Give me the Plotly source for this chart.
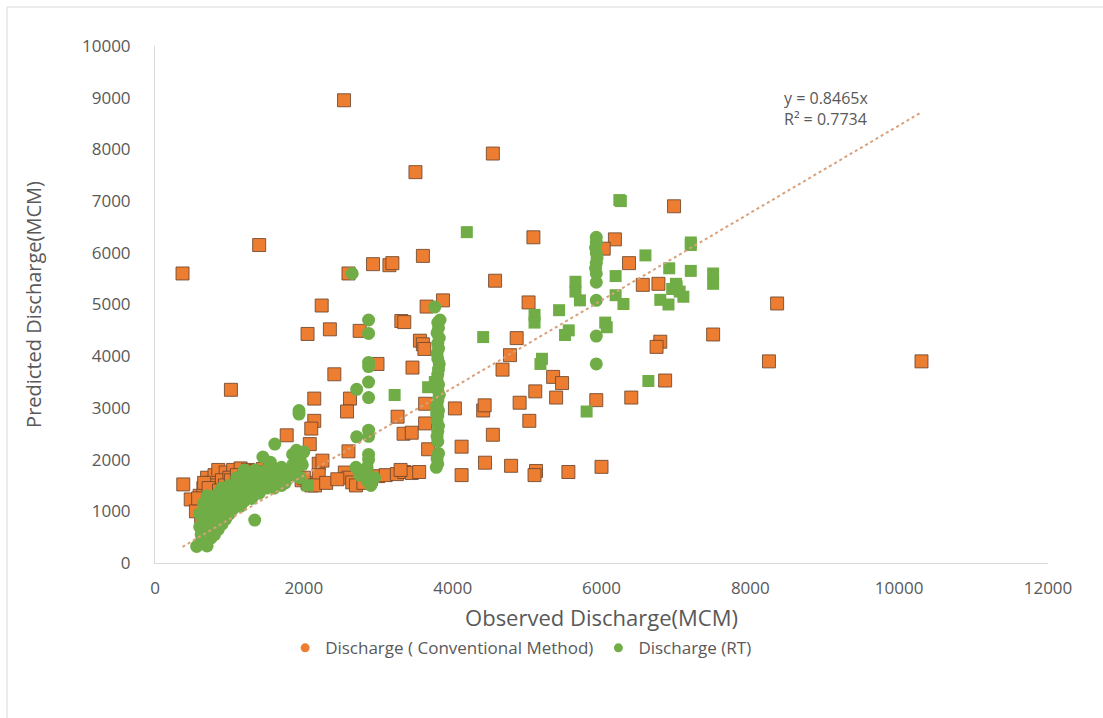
import plotly.graph_objects as go

# Conventional-method discharge: observed vs predicted (MCM)
conv_obs = [
    370, 1400, 2540, 3500, 4540, 6975, 5085, 6180, 6030, 6370, 6555, 6765,
    5020, 4570, 8360, 7500, 6790, 6740, 6855, 8250, 10300, 4860, 4770, 4670,
    5350, 5470, 5110, 4900, 5390, 5930, 6400, 4410, 4430, 5030, 4540, 4435,
    4785, 5120, 5100, 5555, 6000, 4120, 4120, 4030, 3870, 3650, 3600, 2930,
    3150, 3190, 2600, 2240, 2050, 2350, 2750, 3310, 3350, 3560, 3600, 3620,
    2410, 2990, 3460, 2140, 2620, 3630, 1020, 2580, 2140, 2100, 2080, 3260,
    3340, 3450, 1770, 2600, 3670, 3630, 2200, 2250,
    1970, 2050, 2100, 2200, 2550, 2600, 2650, 2700, 2800, 2900, 3000, 3100,
    3250, 3350, 3450, 3550, 3300, 380, 480,
    600, 650, 700, 750, 800, 850, 950, 1050, 1150, 1250, 1350, 1450, 1550,
    1650, 1750, 1850, 650, 700, 750, 800, 900, 1000, 600, 550, 620, 680, 700,
    580, 660, 720, 780, 860, 940, 1020, 1100, 1200, 1300, 1400, 1500, 1600,
    2000, 2150, 2300, 2450,
]
conv_pred = [
    5600, 6150, 8950, 7560, 7920, 6900, 6300, 6260, 6080, 5800, 5380, 5400,
    5040, 5460, 5020, 4420, 4280, 4180, 3530, 3900, 3900, 4350, 4020, 3740,
    3600, 3480, 3320, 3100, 3200, 3150, 3200, 2950, 3050, 2750, 2480, 1940,
    1880, 1780, 1700, 1760, 1860, 2250, 1700, 2990, 5080, 4960, 5940, 5780,
    5760, 5800, 5600, 4980, 4430, 4520, 4490, 4680, 4660, 4300, 4230, 4140,
    3650, 3850, 3780, 3180, 3180, 3080, 3350, 2930, 2750, 2600, 2300, 2830,
    2500, 2520, 2470, 2160, 2200, 2700, 1920, 1980,
    1600, 1550, 1500, 1700, 1750, 1650, 1560, 1500, 1550, 1620, 1680, 1700,
    1720, 1760, 1740, 1760, 1800, 1520, 1230,
    1300, 1450, 1650, 1550, 1700, 1800, 1750, 1800, 1830, 1800, 1780, 1820,
    1800, 1790, 1760, 1720, 1200, 1100, 1350, 1500, 1600, 1650, 1050, 1000,
    900, 800, 950, 1250, 1550, 1450, 1250, 1400, 1500, 1600, 1700, 1650,
    1700, 1750, 1720, 1680, 1650, 1500, 1550, 1620, 1580,
]

# RT discharge, points drawn as circles
rt_circle_obs = [
    2650, 2870, 2870, 3830, 3760, 2870, 2870, 2870, 2870, 2870, 2870, 2870,
    2870, 2850, 2710, 2710, 1935, 1935, 1610, 1900, 1340,
    3800, 3810, 3790, 3820, 3800, 3810, 3790, 3800, 3820, 3810, 3800, 3790,
    3810, 3800, 3820, 3800, 3790, 3810, 3800, 3790, 3810, 3800,
    3790, 3800, 3810, 3790, 3800, 3780,
    5930, 5930, 5920, 5930, 5940, 5930, 5920, 5930, 5930, 5930, 5930, 5930,
    2700, 2750, 2850, 2900, 2800, 2950,
    560, 600, 650, 700, 620, 680, 750, 800, 600, 700, 780, 850, 900, 650,
    750, 850, 950, 1000, 600, 700, 800, 900, 1050, 1150, 650, 750, 850, 950,
    1050, 1200, 1300, 700, 850, 950, 1100, 1250, 1400, 1500, 1600, 900, 1000,
    1150, 1300, 1450, 1600, 1700, 1100, 1250, 1400, 1550, 1700, 1200, 1350,
    1500, 1650, 1800, 1850, 1850, 1950, 1950, 1700, 1550, 1450, 1600, 1750,
    1880, 1980, 1900, 2000,
]
rt_circle_pred = [
    5600, 4700, 4440, 4700, 4950, 3880, 3800, 3500, 3200, 2570, 2450, 2100,
    2000, 1850, 3360, 2440, 2950, 2880, 2300, 2180, 830,
    4650, 4550, 4450, 4350, 4250, 4150, 4050, 3950, 3850, 3750, 3650, 3550,
    3450, 3350, 3250, 3150, 3050, 2950, 2850, 2750, 2650, 2550,
    2450, 2350, 2120, 2020, 1920, 1850,
    6300, 6200, 6100, 6000, 5900, 5800, 5700, 5600, 5430, 5080, 4390, 3850,
    1850, 1700, 1600, 1500, 1780, 1650,
    320, 380, 420, 330, 550, 600, 480, 550, 700, 750, 680, 650, 750, 850,
    900, 850, 850, 950, 950, 1000, 1050, 1000, 1050, 1100, 1150, 1150, 1200,
    1150, 1250, 1200, 1250, 1300, 1350, 1300, 1350, 1350, 1350, 1450, 1450,
    1450, 1500, 1500, 1500, 1550, 1550, 1500, 1650, 1650, 1650, 1700, 1650,
    1800, 1800, 1800, 1800, 1750, 1900, 2100, 2000, 1650, 1850, 1950, 2050,
    1600, 1550, 1700, 1900, 2060, 2150,
]

# RT discharge, points drawn as squares
rt_square_obs = [
    6240, 6260, 4190, 6590, 7200, 7200, 6910, 7200, 7500, 7500, 6190, 5650,
    5650, 5710, 6190, 6295, 6790, 7010, 6950, 7050, 7100, 6900, 7000, 5430,
    5100, 5100, 6050, 6070, 5560, 5510, 4410, 5200, 5180, 5800, 6630, 3220,
    3670, 2050, 3780, 3760,
]
rt_square_pred = [
    7020, 7000, 6400, 5950, 6200, 6150, 5700, 5650, 5600, 5400, 5550, 5440,
    5250, 5080, 5180, 5010, 5090, 5350, 5300, 5250, 5150, 5000, 5400, 4890,
    4800, 4650, 4650, 4560, 4500, 4410, 4370, 3950, 3850, 2930, 3520, 3250,
    3400, 1500, 2950, 3500,
]

# Linear trend through the origin
trend_slope = 0.8465
trend_r2 = 0.7734

x_ticks = [0, 2000, 4000, 6000, 8000, 10000, 12000]
y_ticks = [0, 1000, 2000, 3000, 4000, 5000, 6000, 7000, 8000, 9000, 10000]

ORANGE = "#ED7D31"
GREEN = "#70AD47"
TEXT = "#595959"
FONT = "Open Sans"

all_obs = conv_obs + rt_circle_obs + rt_square_obs
trend_x = [min(all_obs), max(all_obs)]
trend_y = [trend_slope * v for v in trend_x]

fig = go.Figure()

fig.add_trace(go.Scatter(
    x=conv_obs, y=conv_pred, mode="markers", showlegend=False,
    marker=dict(symbol="square", size=13, color=ORANGE,
                line=dict(color="rgba(110,70,45,0.85)", width=1)),
))
fig.add_trace(go.Scatter(
    x=rt_square_obs, y=rt_square_pred, mode="markers", showlegend=False,
    marker=dict(symbol="square", size=12, color=GREEN),
))
fig.add_trace(go.Scatter(
    x=rt_circle_obs, y=rt_circle_pred, mode="markers", showlegend=False,
    marker=dict(symbol="circle", size=13, color=GREEN),
))
fig.add_trace(go.Scatter(
    x=trend_x, y=trend_y, mode="lines", showlegend=False, hoverinfo="skip",
    line=dict(color="#D9A07A", width=2, dash="dot"),
))

# legend entries (round markers)
fig.add_trace(go.Scatter(
    x=[None], y=[None], mode="markers", name="Discharge ( Conventional Method)",
    marker=dict(symbol="circle", size=9, color=ORANGE),
))
fig.add_trace(go.Scatter(
    x=[None], y=[None], mode="markers", name="Discharge (RT)",
    marker=dict(symbol="circle", size=9, color=GREEN),
))

fig.add_annotation(
    x=8420, y=8800, xref="x", yref="y", showarrow=False,
    xanchor="left", yanchor="middle", align="left",
    text=f"y = {trend_slope}x<br>R² = {trend_r2}",
    font=dict(family=FONT, size=16, color=TEXT),
)

# outer chart frame
fig.add_shape(
    type="rect", xref="paper", yref="paper",
    x0=-0.1657, y0=-0.32, x1=1.08, y1=1.0754,
    line=dict(color="#d9d9d9", width=1), fillcolor="rgba(0,0,0,0)", layer="below",
)

fig.update_layout(
    width=1103, height=718,
    margin=dict(l=155, r=55, t=46, b=155),
    paper_bgcolor="white", plot_bgcolor="white",
    font=dict(family=FONT, size=16, color=TEXT),
    legend=dict(
        orientation="h", x=0.41, y=-0.165, xanchor="center", yanchor="middle",
        font=dict(family=FONT, size=17, color=TEXT),
        itemwidth=30, tracegroupgap=0,
    ),
    xaxis=dict(
        range=[0, 12000], tickvals=x_ticks, ticktext=[str(v) for v in x_ticks],
        showgrid=False, zeroline=False,
        showline=True, linecolor="#d9d9d9", linewidth=1,
        ticks="outside", ticklen=10, tickcolor="rgba(0,0,0,0)",
        tickfont=dict(family=FONT, size=17, color=TEXT),
        title=dict(text="Observed Discharge(MCM)", standoff=12,
                   font=dict(family=FONT, size=22, color=TEXT)),
    ),
    yaxis=dict(
        range=[0, 10000], tickvals=y_ticks, ticktext=[str(v) for v in y_ticks],
        showgrid=False, zeroline=False,
        showline=True, linecolor="#d9d9d9", linewidth=1,
        ticks="outside", ticklen=20, tickcolor="rgba(0,0,0,0)",
        tickfont=dict(family=FONT, size=17, color=TEXT),
        title=dict(text="Predicted Discharge(MCM)", standoff=34,
                   font=dict(family=FONT, size=20, color=TEXT)),
    ),
)

fig.write_html("out.html")
